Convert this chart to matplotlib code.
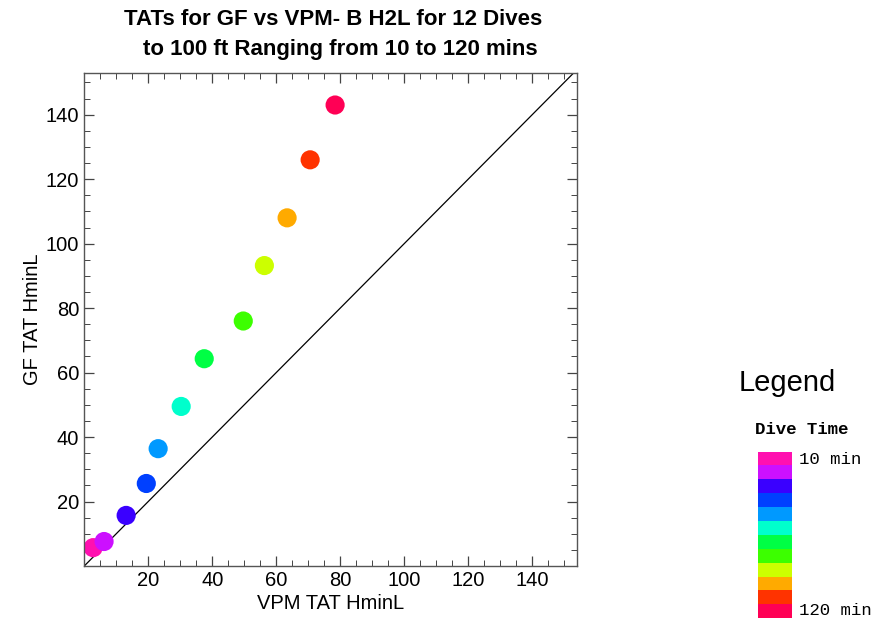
import matplotlib
matplotlib.use("Agg")
from matplotlib import pyplot as plt
from matplotlib.ticker import MultipleLocator

plt.rcParams['font.family'] = ['Liberation Sans', 'DejaVu Sans']

# dive times (min) and turnaround times
dive_time = [10, 20, 30, 40, 50, 60, 70, 80, 90, 100, 110, 120]
vpm_tat = [2.8, 6.2, 13.1, 19.4, 23.1, 30.3, 37.5, 49.7, 56.3, 63.4, 70.6, 78.4]
gf_tat = [5.7, 7.6, 15.7, 25.6, 36.4, 49.5, 64.3, 76.0, 93.2, 108.0, 126.0, 143.0]
colors = ['#ff10b0', '#cc10ff', '#3a00ff', '#0040ff', '#0099ff', '#00ffcc',
          '#00ff44', '#3cff00', '#ccff00', '#ffaa00', '#ff3300', '#ff0055']

fig = plt.figure(figsize=(8.96, 6.22), dpi=100)
ax = fig.add_axes([0.094, 0.090, 0.550, 0.793])

ax.axline((0, 0), slope=1, color='black', lw=0.9, zorder=1)
ax.scatter(vpm_tat, gf_tat, s=190, c=colors, edgecolors='none', zorder=2)

ax.set_xlim(0, 154)
ax.set_ylim(0, 153)
for a in (ax.xaxis, ax.yaxis):
    a.set_major_locator(MultipleLocator(20))
    a.set_minor_locator(MultipleLocator(5))
ax.set_xticks([20, 40, 60, 80, 100, 120, 140])
ax.set_yticks([20, 40, 60, 80, 100, 120, 140])
ax.tick_params(which='both', direction='in', top=True, right=True,
               color='#444444', labelsize=14.5)
ax.tick_params(which='major', length=7, width=0.9)
ax.tick_params(which='minor', length=4, width=0.7)
for sp in ax.spines.values():
    sp.set_color('#555555')
    sp.set_linewidth(1.0)

ax.set_xlabel('VPM TAT HminL', fontsize=14.5, labelpad=3)
ax.set_ylabel('GF TAT HminL', fontsize=14.5, labelpad=3)

fig.text(0.372, 0.968, 'TATs for GF vs VPM- B H2L for 12 Dives',
         ha='center', va='center', fontsize=16, fontweight='bold')
fig.text(0.380, 0.920, 'to 100 ft Ranging from 10 to 120 mins',
         ha='center', va='center', fontsize=16, fontweight='bold')

# legend
fig.text(0.879, 0.385, 'Legend', ha='center', va='center', fontsize=21)
fig.text(0.895, 0.309, 'Dive Time', ha='center', va='center', fontsize=12.5,
         family='Liberation Mono', fontweight='bold')
lax = fig.add_axes([0.846, 0.006, 0.038, 0.268])
lax.bar([0] * len(dive_time), [1] * len(dive_time),
        bottom=list(range(len(dive_time))), width=1, color=colors[::-1], edgecolor='none')
lax.set_xlim(-0.5, 0.5)
lax.set_ylim(0, len(dive_time))
lax.axis('off')
fig.text(0.892, 0.262, '%d min' % dive_time[0], ha='left', va='center',
         fontsize=12.5, family='Liberation Mono')
fig.text(0.892, 0.019, '%d min' % dive_time[-1], ha='left', va='center',
         fontsize=12.5, family='Liberation Mono')

fig.savefig('out.png', dpi=100)
